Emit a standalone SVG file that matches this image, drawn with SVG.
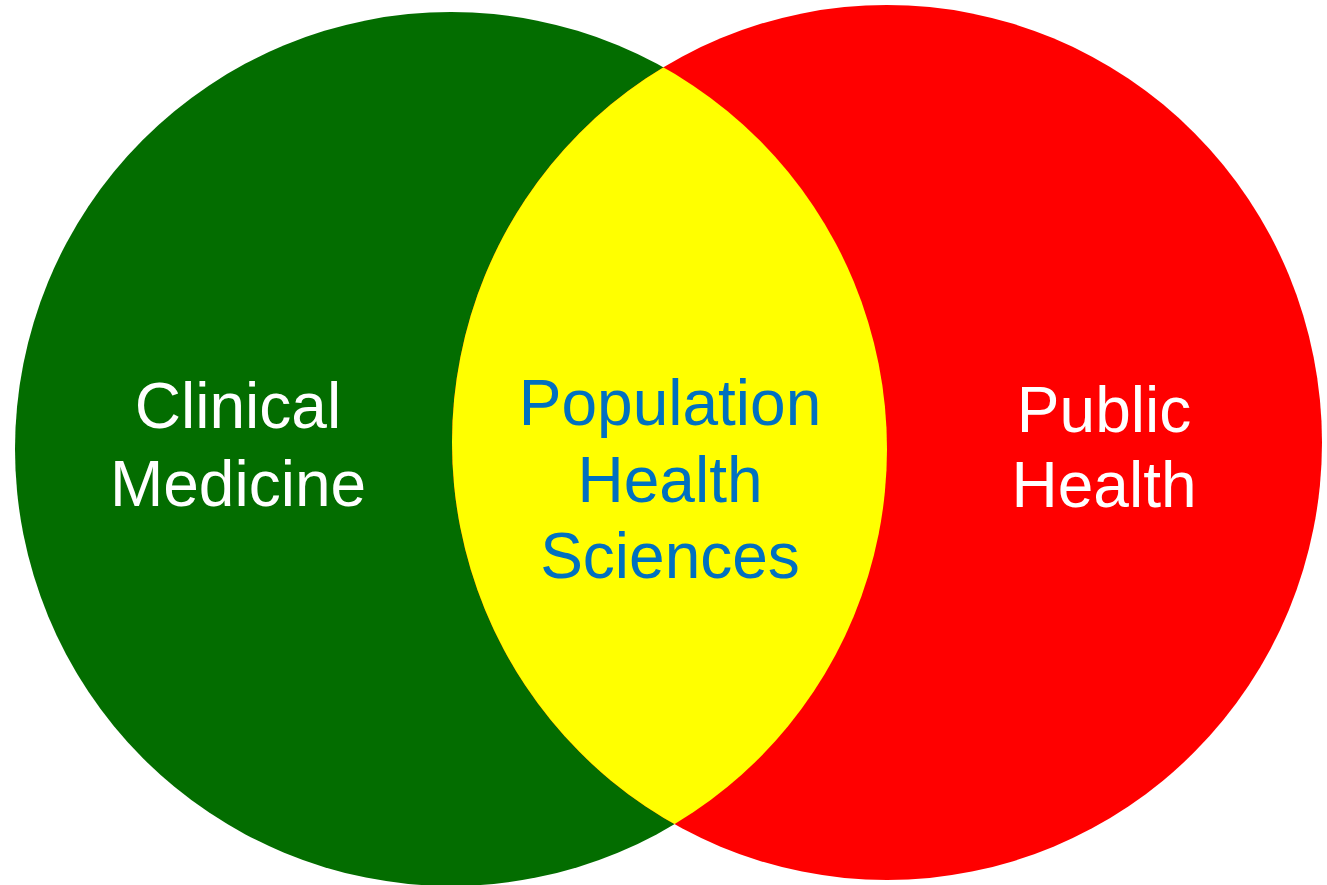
<svg xmlns="http://www.w3.org/2000/svg" width="1327" height="885" viewBox="0 0 1327 885">
<style>
.lbl{font-family:"Liberation Sans",Arial,sans-serif;font-size:64px;text-anchor:middle}
.w{fill:#ffffff}
.b{fill:#0070C0}
</style>
<defs>
<clipPath id="redClip"><ellipse cx="887" cy="442.5" rx="435" ry="437.5"/></clipPath>
</defs>
<rect width="1327" height="885" fill="#ffffff"/>
<g id="clinical-medicine">
<ellipse cx="451" cy="449" rx="436" ry="437" fill="#036D00"/>
</g>
<g id="public-health">
<ellipse cx="887" cy="442.5" rx="435" ry="437.5" fill="#FF0000"/>
</g>
<g id="population-health-sciences">
<ellipse cx="451" cy="449" rx="436" ry="437" fill="#FFFF00" clip-path="url(#redClip)"/>
</g>
<g id="connectors"/>
<g id="labels">
<text class="lbl w" x="238" y="428">Clinical</text>
<text class="lbl w" x="238" y="506">Medicine</text>
<text class="lbl b" x="670" y="425">Population</text>
<text class="lbl b" x="670" y="502">Health</text>
<text class="lbl b" x="670" y="578">Sciences</text>
<text class="lbl w" x="1104" y="432">Public</text>
<text class="lbl w" x="1104" y="507">Health</text>
</g>
</svg>
